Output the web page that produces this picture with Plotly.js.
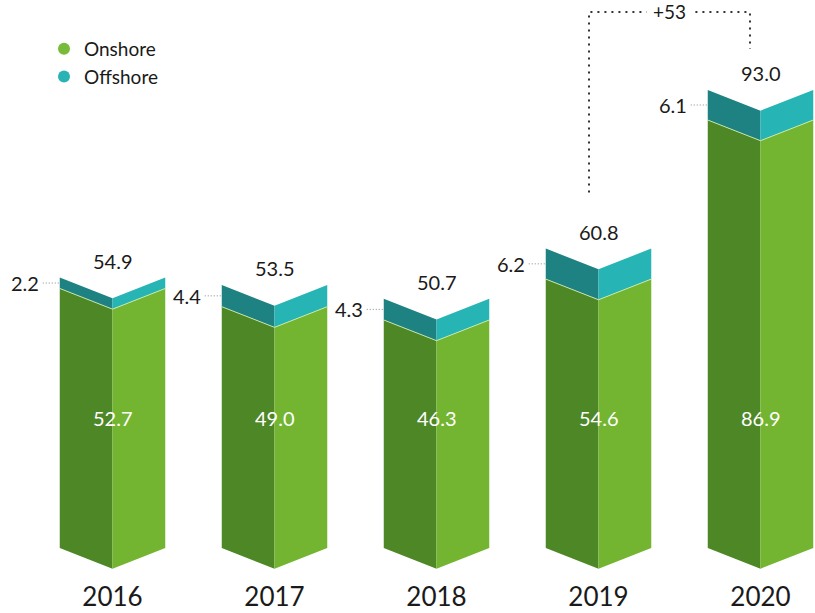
<!DOCTYPE html>
<html>
<head>
<meta charset="utf-8">
<script src="https://cdn.plot.ly/plotly-3.0.1.min.js"></script>
<style>html,body{margin:0;padding:0;background:#fff;}#chart{width:815px;height:613px;}</style>
</head>
<body>
<div id="chart"></div>
<script>
// ---- data ----
const years = ['2016', '2017', '2018', '2019', '2020'];
const onshore = [52.7, 49.0, 46.3, 54.6, 86.9];
const offshore = [2.2, 4.4, 4.3, 6.2, 6.1];
const totals = [54.9, 53.5, 50.7, 60.8, 93.0];
const seriesNames = ['Onshore', 'Offshore'];

// ---- style ----
const C = {
  onL: '#4e8725', onR: '#73b530',
  offL: '#1e8283', offR: '#26b4b4',
  dotOn: '#78bb3b', dotOff: '#29b3b5',
  sep: 'rgba(215,240,170,0.85)'
};
const FONT = 'Lato, "Open Sans", sans-serif';
const W = 0.3256;      // half bar width (x units)
const D = 4.2;         // V depth (y units)
const PXX = 162;       // px per x unit
const PXY = 4.925;     // px per y unit

const traces = [];
function poly(xs, ys, color) {
  traces.push({type: 'scatter', mode: 'lines', x: xs.concat([xs[0]]), y: ys.concat([ys[0]]),
    fill: 'toself', fillcolor: color, line: {width: 0, color: color},
    hoverinfo: 'skip', showlegend: false});
}
const annotations = [];
const shapes = [];

years.forEach((yr, i) => {
  const xc = i, xl = i - W, xr = i + W;
  const on = onshore[i], top = onshore[i] + offshore[i];
  // onshore faces
  poly([xl, xc, xc, xl], [0, -D, on - D, on], C.onL);
  poly([xc, xr, xr, xc], [-D, 0, on, on - D], C.onR);
  // offshore faces
  poly([xl, xc, xc, xl], [on, on - D, top - D, top], C.offL);
  poly([xc, xr, xr, xc], [on - D, on, top, top - D], C.offR);
  // separator line
  traces.push({type: 'scatter', mode: 'lines', x: [xl, xc, xr], y: [on, on - D, on],
    line: {width: 1, color: C.sep}, hoverinfo: 'skip', showlegend: false});

  // total label
  annotations.push({x: xc, y: top, text: totals[i].toFixed(1), showarrow: false,
    yanchor: 'middle', yshift: 17, font: {family: FONT, size: 20, color: '#1a1a1a'}});
  // onshore label (inside)
  annotations.push({x: xc, y: 26.4, text: onshore[i].toFixed(1), showarrow: false,
    yanchor: 'middle', font: {family: FONT, size: 20, color: '#ffffff'}});
  // offshore label with leader
  const ym = on + offshore[i] / 2;
  annotations.push({x: xl, y: ym, text: offshore[i].toFixed(1), showarrow: false,
    xanchor: 'right', yanchor: 'middle', xshift: -19, font: {family: FONT, size: 20, color: '#1a1a1a'}});
  shapes.push({type: 'line', x0: xl - 17 / PXX, x1: xl, y0: ym, y1: ym,
    line: {color: '#8a8a8a', width: 1, dash: '1px,2px'}});
});

// growth bracket 2019 -> 2020
const a = 3, b = 4;
const growth = Math.round((totals[b] / totals[a] - 1) * 100);
const bx0 = a - 9.5 / PXX, bx1 = b - 10.5 / PXX;
const byTop = totals[b] + 78 / PXY;   // above tallest bar
const by0 = totals[a] + 56 / PXY, by1 = totals[b] + 41 / PXY;
shapes.push({type: 'path',
  path: `M ${bx0} ${by0} L ${bx0} ${byTop} L ${bx1} ${byTop} L ${bx1} ${by1}`,
  line: {color: '#333333', width: 2, dash: '2px,5px'}});
annotations.push({x: (bx0 + bx1) / 2, y: byTop, text: '+' + growth, showarrow: false,
  yanchor: 'middle', bgcolor: '#ffffff', borderpad: 6,
  font: {family: FONT, size: 19, color: '#1a1a1a'}});

// legend entries
traces.push({type: 'scatter', mode: 'markers', x: [null], y: [null], name: seriesNames[0],
  marker: {size: 12, color: C.dotOn}});
traces.push({type: 'scatter', mode: 'markers', x: [null], y: [null], name: seriesNames[1],
  marker: {size: 12, color: C.dotOff}});

const layout = {
  width: 815, height: 613,
  margin: {l: 0, r: 0, t: 0, b: 34, pad: 0},
  paper_bgcolor: '#ffffff', plot_bgcolor: '#ffffff',
  showlegend: true,
  legend: {x: 44 / 815, y: 1 - 30 / 579, xanchor: 'left', yanchor: 'top',
    bgcolor: 'rgba(0,0,0,0)', font: {family: FONT, size: 19, color: '#1a1a1a'},
    itemwidth: 30, tracegroupgap: 0},
  xaxis: {range: [-112.5 / PXX, (815 - 112.5) / PXX], showgrid: false, zeroline: false,
    showline: false, ticks: '', tickvals: years.map((_, i) => i), ticktext: years,
    tickfont: {family: FONT, size: 26, color: '#1a1a1a'}, fixedrange: true},
  yaxis: {range: [(548 - 579) / PXY, 548 / PXY], showgrid: false, zeroline: false,
    showline: false, showticklabels: false, ticks: '', fixedrange: true},
  annotations: annotations,
  shapes: shapes,
  hovermode: false
};
Plotly.newPlot('chart', traces, layout, {displayModeBar: false, staticPlot: true});
</script>
</body>
</html>
